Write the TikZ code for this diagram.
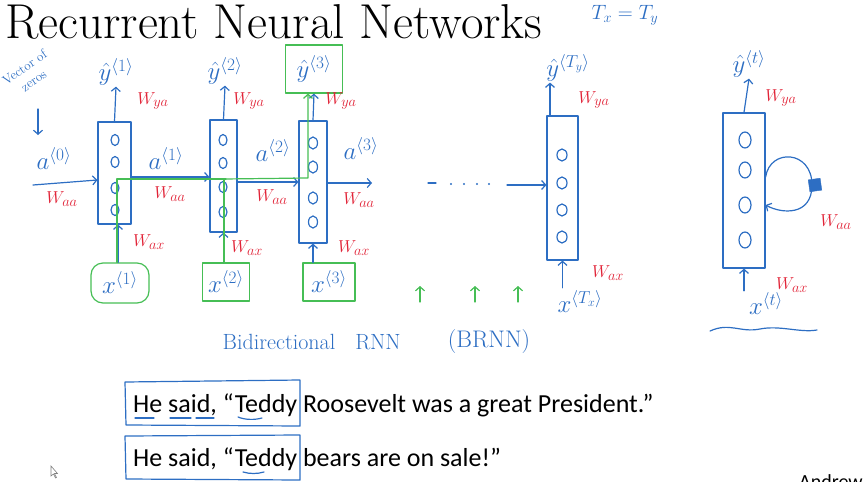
\documentclass[tikz,border=0pt]{standalone}
\usepackage{fontspec}
\newfontfamily\slidefont{Carlito}
\usetikzlibrary{arrows.meta,calc,shapes.geometric}
\definecolor{inkblue}{RGB}{45,110,195}
\definecolor{inkred}{RGB}{225,35,55}
\definecolor{inkgreen}{RGB}{70,190,85}

\begin{document}
\begin{tikzpicture}[x=1pt,y=-1pt,
  ink/.style={line width=1.2pt, line cap=round, line join=round},
  arr/.style={ink, draw=inkblue, -{Straight Barb[length=4pt,width=9pt]}},
  garr/.style={ink, draw=inkgreen, -{Straight Barb[length=4pt,width=9pt]}},
  gline/.style={ink, draw=inkgreen},
  cell/.style={ink, draw=inkblue, rectangle, inner sep=0pt},
  unit/.style={ink, draw=inkblue},
  lab/.style={text=inkblue, font=\fontsize{25}{25}\selectfont, inner sep=1pt},
  wlab/.style={text=inkred, font=\fontsize{19}{19}\selectfont, inner sep=1pt},
  gbox/.style={ink, draw=inkgreen, text=inkblue, font=\fontsize{25}{25}\selectfont, inner sep=0pt},
  sent/.style={font=\slidefont\fontsize{26}{26}\selectfont, anchor=base west, inner sep=0pt},
  frame/.style={ink, draw=inkblue}
]
\useasboundingbox (0,0) rectangle (865,482);

% title and note
\node[anchor=base west, inner sep=0pt, font=\fontsize{49}{49}\selectfont] (title) at (5,38) {Recurrent Neural Networks};
\node[lab, font=\fontsize{22}{22}\selectfont] (txty) at (625,15) {$T_x = T_y$};

% unrolled cells
\node[cell, minimum width=33, minimum height=102] (c1) at (114.5,173) {};
\node[cell, minimum width=27, minimum height=112] (c2) at (223.5,176) {};
\node[cell, minimum width=28, minimum height=122] (c3) at (313,182) {};
\node[cell, minimum width=31, minimum height=144] (cT) at (562.5,188) {};
\node[cell, minimum width=42, minimum height=155] (ct) at (744,190.5) {};

% hidden units
\foreach \yy in {140,162,188,210} \draw[unit] (115,\yy) ellipse (4 and 5.5);
\foreach \yy in {140,163,187,212} \draw[unit] (223,\yy) ellipse (4 and 5.5);
\foreach \yy in {143,167,198,222} \draw[unit] (313,\yy) ellipse (4.5 and 6);
\foreach \yy in {155,183,210,237} \draw[unit] (562,\yy) ellipse (5 and 6);
\foreach \yy in {140,170,205,240} \draw[unit] (745,\yy) ellipse (6 and 8);

% outputs
\node[lab] (y1) at (116,72) {$\hat{y}^{\langle 1\rangle}$};
\node[lab] (y2) at (225,71) {$\hat{y}^{\langle 2\rangle}$};
\node[gbox, minimum width=57, minimum height=48] (y3) at (314,69) {$\hat{y}^{\langle 3\rangle}$};
\node[lab] (yT) at (568,68) {$\hat{y}^{\langle T_y\rangle}$};
\node[lab] (yt) at (749,64) {$\hat{y}^{\langle t\rangle}$};

\draw[arr] (c1.north) -- (y1.south);
\draw[arr] (c2.north) -- (y2.south);
\draw[arr] (c3.north) -- (y3.south);
\draw[arr] (cT.north -| 550,0) -- (yT.south -| 550,0);
\draw[arr] (ct.north) -- (yt.south);

\node[wlab] (wy1) at (153,101) {$W_{ya}$};
\node[wlab] (wy2) at (249,101) {$W_{ya}$};
\node[wlab] (wy3) at (341,101) {$W_{ya}$};
\node[wlab] (wyT) at (594,100) {$W_{ya}$};
\node[wlab] (wyt) at (781,98) {$W_{ya}$};

% inputs
\node[gbox, rounded corners=12pt, minimum width=58, minimum height=40] (x1) at (120,283) {$x^{\langle 1\rangle}$};
\node[gbox, minimum width=47, minimum height=38] (x2) at (226,282) {$x^{\langle 2\rangle}$};
\node[gbox, minimum width=52, minimum height=38] (x3) at (329,282) {$x^{\langle 3\rangle}$};
\node[lab] (xT) at (580,302) {$x^{\langle T_x\rangle}$};
\node[lab] (xt) at (766,304) {$x^{\langle t\rangle}$};

\draw[arr] (x1.north -| 118,0) -- (c1.south -| 118,0);
\draw[arr] (x2.north -| c2.south) -- (c2.south);
\draw[arr] (x3.north -| c3.south) -- (c3.south);
\draw[arr, shorten <=2pt] (xT.north -| cT.south) -- (cT.south);
\draw[arr, shorten <=1pt] (xt.north -| ct.south) -- (ct.south);

\node[wlab] (wx1) at (149,242) {$W_{ax}$};
\node[wlab] (wx2) at (247,248) {$W_{ax}$};
\node[wlab] (wx3) at (354,248) {$W_{ax}$};
\node[wlab] (wxT) at (608,273) {$W_{ax}$};
\node[wlab] (wxt) at (792,285) {$W_{ax}$};

% activations passed along the sequence
\node[lab, font=\fontsize{13}{16}\selectfont, rotate=35, align=center] (zeros) at (29,74) {Vector of\\zeros};
\coordinate (zs) at (38,109);
\coordinate (ze) at (38,135);
\draw[arr] (zs) -- (ze);

\node[lab] (a0) at (54,159) {$a^{\langle 0\rangle}$};
\node[lab] (a1) at (166,159) {$a^{\langle 1\rangle}$};
\node[lab] (a2) at (273,151) {$a^{\langle 2\rangle}$};
\node[lab] (a3) at (361,149) {$a^{\langle 3\rangle}$};

\coordinate (a0s) at (33,185);
\coordinate (a3e) at (372,183);
\draw[arr] (a0s) -- (c1.west |- 0,180);
\draw[arr] (c1.east |- 0,177) -- (c2.west |- 0,177);
\draw[arr] (c2.east |- 0,182) -- (c3.west |- 0,182);
\draw[arr] (c3.east |- 0,183) -- (a3e);

\node[wlab] (wa0) at (62,199) {$W_{aa}$};
\node[wlab] (wa1) at (170,194) {$W_{aa}$};
\node[wlab] (wa2) at (272,197) {$W_{aa}$};
\node[wlab] (wa3) at (359,200) {$W_{aa}$};

% the elided middle of the sequence
\draw[ink, draw=inkblue] (428,183) -- (436,183);
\foreach \xx in {451,464,477,489} \fill[inkblue] (\xx,184) circle (1.1);
\coordinate (dotsend) at (507,185);
\draw[arr] (dotsend) -- (cT.west |- 0,185);

% highlighted path from x<1>, x<2> to y<3>
\draw[gline] (x1.north -| 117,0) -- (117,179) -- (226,179);
\draw[gline] (x2.north -| 224,0) -- (224,179);
\draw[garr] (224,179) -- (308,178) -- (y3.south -| 308,0);

% future inputs
\foreach \xx in {420,475,518} \draw[garr] (\xx,302) -- (\xx,286);

% compact recurrent cell
\draw[arr] (ct.east |- 0,177) .. controls (770,148) and (812,150) .. (812,185)
  .. controls (812,216) and (782,214) .. (ct.east |- 0,205);
\node[fill=inkblue, draw=inkblue, minimum size=12, inner sep=0pt, rotate=8] (delay) at (815,185) {};
\node[wlab] (wat) at (836,222) {$W_{aa}$};
\draw[ink, draw=inkblue] (710,331) .. controls (730,322) and (740,333) .. (760,329)
  .. controls (780,325) and (800,333) .. (817,330);

% caption
\node[lab, font=\fontsize{22}{22}\selectfont] (bi) at (279,342) {Bidirectional};
\node[lab, font=\fontsize{22}{22}\selectfont] (rnn) at (378,342) {RNN};
\node[lab, font=\fontsize{24}{24}\selectfont] (brnn) at (489,342) {(BRNN)};

% example sentences
\node[sent] (s1) at (133,412) {He said, “Teddy Roosevelt was a great President.”};
\node[sent] (s2) at (133,466) {He said, “Teddy bears are on sale!”};
\draw[frame] (125,382) -- (300,380) -- (300,426) -- (126,425) -- cycle;
\draw[frame] (125,436) -- (300,435) -- (300,480) -- (126,479) -- cycle;
\draw[frame] (135,418) -- (154,418);
\draw[frame] (170,418) -- (191,418);
\draw[frame] (196,418) -- (214,418);
\draw[frame] (238,417) .. controls (245,420) and (255,420) .. (262,418);
\draw[frame] (243,472) .. controls (250,474) and (257,474) .. (264,472);

% footer
\node[anchor=north west, inner sep=0pt, font=\slidefont\fontsize{20}{20}\selectfont] (author) at (799,474) {Andrew Ng};
\draw[gray, line width=0.6pt, fill=white] (51,466) -- (51,476) -- (53.5,474) -- (55.5,478) -- (56.5,477.5) -- (54.5,473.5) -- (57.5,473.5) -- cycle;
\end{tikzpicture}
\end{document}
